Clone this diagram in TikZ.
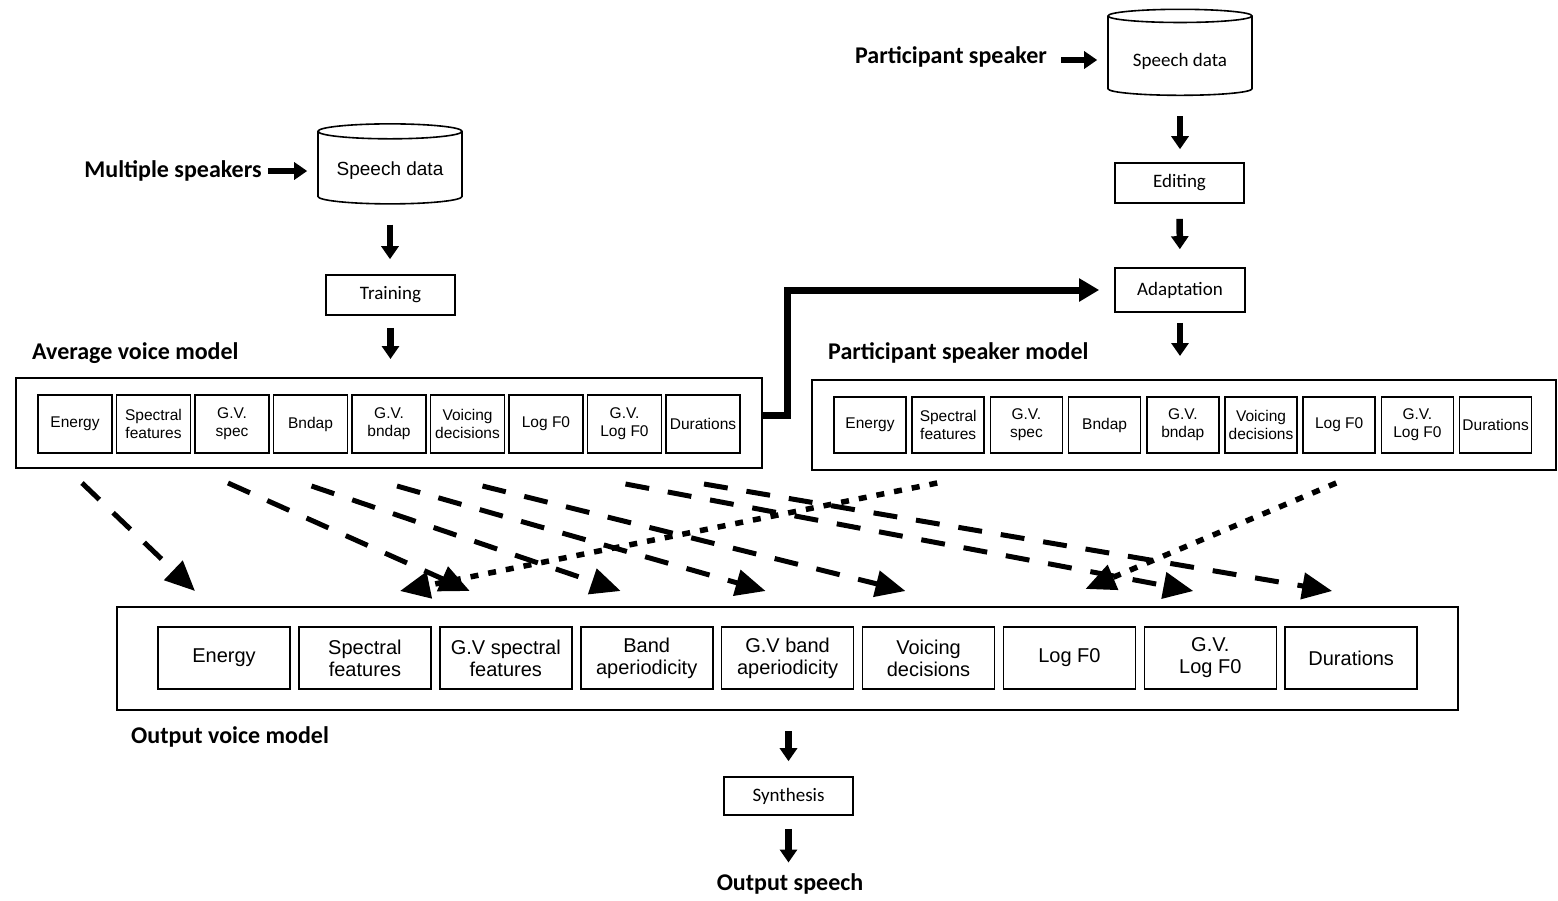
\documentclass[tikz,border=0pt]{standalone}
\usepackage{fontspec}
\setmainfont{Liberation Sans}
\newfontfamily\calfont{Carlito}
\usetikzlibrary{arrows.meta,shapes.geometric,calc}
\begin{document}
\begin{tikzpicture}[x=1pt,y=-1pt,
  lab/.style={inner sep=0pt, font=\calfont\bfseries\fontsize{24}{26}\selectfont},
  procbox/.style={draw, line width=1.6pt, inner sep=0pt, font=\calfont\fontsize{19}{21}\selectfont},
  db/.style={draw, line width=1.6pt, cylinder, shape border rotate=90, aspect=0.14, inner sep=0pt},
  smallbox/.style={draw, line width=1.5pt, minimum width=74pt, minimum height=58pt, inner sep=0pt, align=center, font=\fontsize{15.5}{18}\selectfont},
  pbox/.style={smallbox, minimum width=72pt, minimum height=56pt},
  bigbox/.style={draw, line width=1.6pt, minimum width=132pt, minimum height=62pt, inner sep=0pt, align=center, font=\fontsize{20}{22}\selectfont},
  outer/.style={draw, line width=2pt, inner sep=0pt},
  blockarrow/.style={line width=6.5pt, -{Triangle[width=17pt,length=13pt]}},
  longdash/.style={line width=5pt, dash pattern=on 24pt off 19pt, -{Triangle[width=26pt,length=30pt]}},
  dotdash/.style={line width=5.5pt, dash pattern=on 8pt off 10pt, -{Triangle[width=26pt,length=30pt]}}
]
\useasboundingbox (0,0) rectangle (1558,900);

% top left
\node[lab] (ms) at (173,171) {Multiple speakers};
\node[db, minimum width=144pt, minimum height=80pt, font=\fontsize{19}{21}\selectfont] (sd1) at (390,168) {\raisebox{-7pt}[0pt][0pt]{Speech data}};
\node[procbox, minimum width=129pt, minimum height=40pt] (train) at (390.5,295) {Training};
\node[lab, anchor=west] (avlab) at (32,353) {Average voice model};

% top right
\node[lab] (ps) at (951,57) {Participant speaker};
\node[db, minimum width=144pt, minimum height=86pt, font=\calfont\fontsize{19}{21}\selectfont] (sd2) at (1180,56) {\raisebox{-10pt}[0pt][0pt]{Speech data}};
\node[procbox, minimum width=129pt, minimum height=40pt] (edit) at (1179.5,183) {Editing};
\node[procbox, minimum width=130pt, minimum height=44pt] (adapt) at (1180,290) {Adaptation};
\node[lab, anchor=west] (pslab) at (828,353) {Participant speaker model};

% model containers
\node[outer, minimum width=746pt, minimum height=90pt] (avg) at (389,423) {};
\node[outer, minimum width=744pt, minimum height=90pt] (part) at (1184,425) {};
\node[outer, minimum width=1341pt, minimum height=103pt] (out) at (787.5,658.5) {};

\foreach \t [count=\i] in {Energy,{Spectral\\features},{G.V.\\spec},Bndap,{G.V.\\bndap},{Voicing\\decisions},Log F0,{G.V.\\Log F0},Durations}
  \node[smallbox] (a\i) at ({75+78.5*(\i-1)},424) {\t};
\foreach \t [count=\i] in {Energy,{Spectral\\features},{G.V.\\spec},Bndap,{G.V.\\bndap},{Voicing\\decisions},Log F0,{G.V.\\Log F0},Durations}
  \node[pbox] (p\i) at ({870+78.2*(\i-1)},425) {\t};
\foreach \t [count=\i] in {Energy,{Spectral\\features},{G.V spectral\\features},{Band\\aperiodicity},{G.V band\\aperiodicity},{Voicing\\decisions},Log F0,{G.V.\\Log F0},Durations}
  \node[bigbox] (o\i) at ({224+140.9*(\i-1)},658) {\t};

\node[lab, anchor=west] (oulab) at (131,737) {Output voice model};
\node[procbox, minimum width=129pt, minimum height=38pt] (synth) at (788.5,796) {Synthesis};
\node[lab] (os) at (790,884) {Output speech};

% block arrows
\draw[blockarrow, line width=5.5pt, shorten <=6pt, shorten >=10pt] (ms.east) -- (ms.east -| sd1.west);
\draw[blockarrow, line width=5.5pt, shorten <=14pt, shorten >=10pt] ($(ps.east)+(0,3)$) -- ($(ps.east -| sd2.west)+(0,3)$);
\draw[blockarrow, shorten <=20pt, shorten >=15pt] (sd1.south) -- (sd1.south |- train.north);
\draw[blockarrow, shorten <=12pt, shorten >=18pt] (train.south) -- (train.south |- avg.north);
\draw[blockarrow, shorten <=20pt, shorten >=13pt] (sd2.south) -- (sd2.south |- edit.north);
\draw[blockarrow, shorten <=15pt, shorten >=18pt] (edit.south) -- (adapt.north);
\draw[blockarrow, shorten <=10pt, shorten >=23pt] (adapt.south) -- (adapt.south |- part.north);
\draw[blockarrow, shorten <=20pt, shorten >=15pt] (synth.north |- out.south) -- (synth.north);
\draw[blockarrow, shorten <=13pt, shorten >=11pt] (synth.south) -- (synth.south |- os.north);

% thick connector to adaptation
\draw[line width=7pt, -{Triangle[width=22pt,length=20pt]}, shorten >=15pt] ($(avg.east)+(0,-8)$) -- ++(24,0) |- (adapt.west);

% dashed arrows from the average voice model
\draw[longdash] ($(a1.center |- avg.south)+(7,14)$) -- ($(o1.center |- out.north)+(-29,-15)$);
\draw[longdash] ($(a3.center |- avg.south)+(-4,14)$) -- ($(o3.center |- out.north)+(-36,-15)$);
\draw[longdash] ($(a4.center |- avg.south)+(1,17)$) -- ($(o4.center |- out.north)+(-26,-15)$);
\draw[longdash] ($(a5.center |- avg.south)+(8,17)$) -- ($(o5.center |- out.north)+(-22,-15)$);
\draw[longdash] ($(a6.center |- avg.south)+(15,17)$) -- ($(o6.center |- out.north)+(-23,-15)$);
\draw[longdash] ($(a8.center |- avg.south)+(1,15)$) -- ($(o8.center |- out.north)+(-17,-15)$);
\draw[longdash] ($(a9.center |- avg.south)+(1,15)$) -- ($(o9.center |- out.north)+(-19,-15)$);

% dotted arrows from the participant speaker model
\draw[dotdash] ($(p2.center |- part.south)+(-11,12)$) -- ($(o2.center |- out.north)+(35,-15)$);
\draw[dotdash] ($(p7.center |- part.south)+(-3,12)$) -- ($(o7.center |- out.north)+(16,-17)$);
\end{tikzpicture}
\end{document}
